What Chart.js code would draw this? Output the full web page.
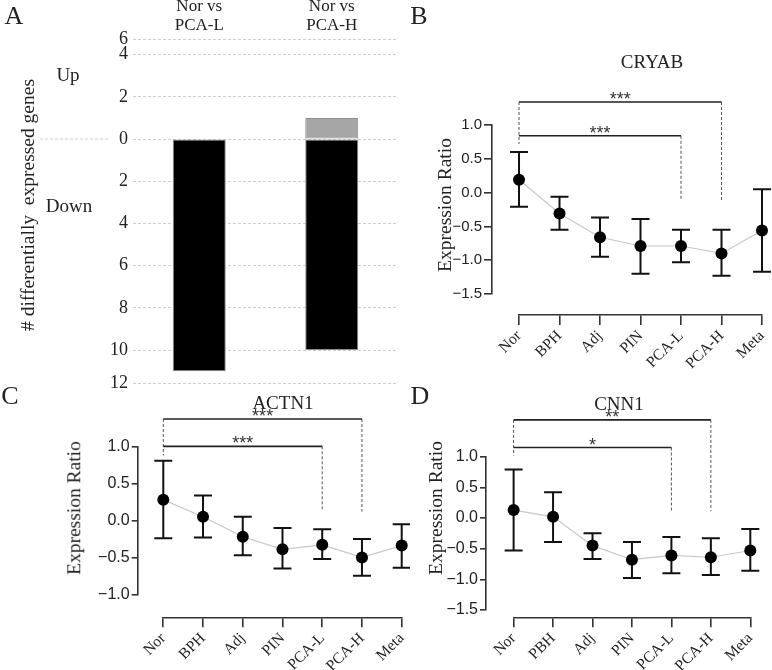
<!DOCTYPE html>
<html>
<head>
<meta charset="utf-8">
<script src="https://cdn.jsdelivr.net/npm/chart.js@4.4.1/dist/chart.umd.min.js"></script>
<style>
  body { margin: 0; background: #fff; }
  #wrap { position: relative; width: 772px; height: 670px; overflow: hidden;
          font-family: 'Liberation Serif', 'Times New Roman', serif; color: #222; }
  canvas { position: absolute; }
  .lbl { position: absolute; transform: translate(-50%, -50%); white-space: nowrap; line-height: 1; }
  .rot { transform: translate(-50%, -50%) rotate(-90deg); }
</style>
</head>
<body>
<div id="wrap">
  <canvas id="chartA" width="400" height="400" style="left:0;top:0"></canvas>
  <canvas id="chartB" width="372" height="380" style="left:400px;top:0"></canvas>
  <canvas id="chartC" width="410" height="290" style="left:0;top:380px"></canvas>
  <canvas id="chartD" width="386" height="290" style="left:386px;top:380px"></canvas>

  <div class="lbl" style="left:14px;top:16px;font-size:26px">A</div>
  <div class="lbl" style="left:419px;top:16px;font-size:26px">B</div>
  <div class="lbl" style="left:10px;top:396px;font-size:26px">C</div>
  <div class="lbl" style="left:420px;top:396px;font-size:26px">D</div>

  <div class="lbl" style="left:68px;top:74px;font-size:19px">Up</div>
  <div class="lbl" style="left:69px;top:205px;font-size:19px">Down</div>
  <div class="lbl rot" style="left:28px;top:205px;font-size:19.5px"># differentially&nbsp; expressed genes</div>

  <div class="lbl" style="left:652px;top:61px;font-size:19px">CRYAB</div>
  <div class="lbl" style="left:283px;top:402px;font-size:19px">ACTN1</div>
  <div class="lbl" style="left:619px;top:403px;font-size:19px">CNN1</div>

  <div class="lbl rot" style="left:445px;top:205px;font-size:19.5px">Expression Ratio</div>
  <div class="lbl rot" style="left:74px;top:508px;font-size:19.5px">Expression Ratio</div>
  <div class="lbl rot" style="left:436px;top:508px;font-size:19.5px">Expression Ratio</div>
</div>

<script>
// panel A: number of differentially expressed genes
const comparisons = [['Nor vs', 'PCA-L'], ['Nor vs', 'PCA-H']];
const upGenes = [0, 1];
const downGenes = [-11, -10];
// the printed axis is uneven at both ends, so tick values follow the picture
const countTicks = [-11.56, -10, -8, -6, -4, -2, 0, 2, 4, 4.74];
const countTickLabels = ['12', '10', '8', '6', '4', '2', '0', '2', '4', '6'];

// panels B-D: expression ratio per stage
const stages = ['Nor', 'BPH', 'Adj', 'PIN', 'PCA-L', 'PCA-H', 'Meta'];
const stagesCnn1 = ['Nor', 'PBH', 'Adj', 'PIN', 'PCA-L', 'PCA-H', 'Meta'];

const cryabMean = [0.19, -0.31, -0.66, -0.79, -0.79, -0.90, -0.56];
const cryabHigh = [0.60, -0.06, -0.37, -0.39, -0.55, -0.55, 0.05];
const cryabLow = [-0.21, -0.55, -0.95, -1.20, -1.03, -1.23, -1.17];

const actn1Mean = [0.28, 0.05, -0.22, -0.39, -0.33, -0.50, -0.34];
const actn1High = [0.81, 0.34, 0.05, -0.10, -0.12, -0.25, -0.05];
const actn1Low = [-0.24, -0.23, -0.47, -0.65, -0.52, -0.75, -0.64];

const cnn1Mean = [0.13, 0.02, -0.45, -0.68, -0.61, -0.64, -0.53];
const cnn1High = [0.79, 0.42, -0.25, -0.39, -0.31, -0.33, -0.18];
const cnn1Low = [-0.53, -0.39, -0.67, -0.98, -0.90, -0.93, -0.86];

// significance brackets (Nor vs PCA-L, Nor vs PCA-H)
const cryabSig = [
  { from: 0, to: 4, level: 0.84, drop: -0.11, stars: '***' },
  { from: 0, to: 5, level: 1.34, drop: -0.11, stars: '***' },
];
const actn1Sig = [
  { from: 0, to: 4, level: 1.005, drop: 0.14, stars: '***' },
  { from: 0, to: 5, level: 1.375, drop: 0.12, stars: '***' },
];
const cnn1Sig = [
  { from: 0, to: 4, level: 1.15, drop: 0.12, stars: '*' },
  { from: 0, to: 5, level: 1.60, drop: 0.11, stars: '**' },
];
const sigNorDrop = { cryab: 0.72, actn1: 0.88, cnn1: 1.02 };

const SERIF = 'Liberation Serif';
const SANS = 'Liberation Sans';

function panelMarks(low, high, sig, norDrop, gap) {
  return {
    id: 'panelMarks',
    // Prism style: the stage axis hangs below the plot and starts at the first stage
    afterLayout(chart) {
      const x = chart.scales.x;
      x.left = x.getPixelForValue(0);
      x.top = chart.chartArea.bottom + gap;
    },
    beforeDatasetsDraw(chart) {
      const { ctx, scales: { x, y } } = chart;
      ctx.save();
      ctx.strokeStyle = '#111';
      ctx.lineWidth = 2;
      ctx.beginPath();
      high.forEach((hi, i) => {
        const px = x.getPixelForValue(i);
        const top = y.getPixelForValue(hi);
        const bot = y.getPixelForValue(low[i]);
        ctx.moveTo(px, top); ctx.lineTo(px, bot);
        ctx.moveTo(px - 9, top); ctx.lineTo(px + 9, top);
        ctx.moveTo(px - 9, bot); ctx.lineTo(px + 9, bot);
      });
      ctx.stroke();
      ctx.restore();
    },
    afterDatasetsDraw(chart) {
      const { ctx, scales: { x, y } } = chart;
      const highest = Math.max(...sig.map((s) => s.level));
      const x0 = x.getPixelForValue(0);
      ctx.save();
      ctx.strokeStyle = '#555';
      ctx.lineWidth = 1;
      ctx.setLineDash([3, 2]);
      ctx.beginPath();
      ctx.moveTo(x0, y.getPixelForValue(highest));
      ctx.lineTo(x0, y.getPixelForValue(norDrop));
      sig.forEach((s) => {
        const px = x.getPixelForValue(s.to);
        ctx.moveTo(px, y.getPixelForValue(s.level));
        ctx.lineTo(px, y.getPixelForValue(s.drop));
      });
      ctx.stroke();
      ctx.setLineDash([]);
      ctx.strokeStyle = '#222';
      ctx.lineWidth = 1.6;
      ctx.beginPath();
      sig.forEach((s) => {
        const py = y.getPixelForValue(s.level);
        ctx.moveTo(x.getPixelForValue(s.from), py);
        ctx.lineTo(x.getPixelForValue(s.to), py);
      });
      ctx.stroke();
      ctx.fillStyle = '#333';
      ctx.font = `18px "${SANS}"`;
      ctx.textAlign = 'center';
      ctx.textBaseline = 'alphabetic';
      sig.forEach((s) => {
        const cx = (x.getPixelForValue(s.from) + x.getPixelForValue(s.to)) / 2;
        ctx.fillText(s.stars, cx, y.getPixelForValue(s.level) + 3);
      });
      ctx.restore();
    },
  };
}

const zeroLine = {
  id: 'zeroLine',
  afterDatasetsDraw(chart) {
    const { ctx, chartArea, scales: { y } } = chart;
    const py = y.getPixelForValue(0);
    ctx.save();
    ctx.strokeStyle = '#cfcfcf';
    ctx.lineWidth = 1;
    ctx.setLineDash([3, 2]);
    ctx.beginPath();
    ctx.moveTo(chartArea.left - 93, py);
    ctx.lineTo(chartArea.left - 23, py);
    ctx.stroke();
    ctx.restore();
  },
};

new Chart(document.getElementById('chartA').getContext('2d'), {
  type: 'bar',
  data: {
    labels: comparisons,
    datasets: [
      { data: upGenes, backgroundColor: '#a6a6a6', borderColor: '#8c8c8c', borderWidth: (c) => (c.raw ? 1 : 0) },
      { data: downGenes, backgroundColor: '#000', borderColor: '#8c8c8c', borderWidth: 1 },
    ],
  },
  options: {
    responsive: false,
    animation: false,
    layout: { padding: { top: 0, right: 2, bottom: 17, left: 0 } },
    plugins: { legend: { display: false }, tooltip: { enabled: false } },
    datasets: { bar: { categoryPercentage: 1, barPercentage: 0.4, borderSkipped: false } },
    scales: {
      x: {
        position: 'top',
        stacked: true,
        afterFit: (s) => { s.height = 39; },
        grid: { display: false, drawTicks: false },
        border: { display: false },
        ticks: { padding: 4, color: '#222', font: { family: SERIF, size: 17, lineHeight: 1.1 } },
      },
      y: {
        stacked: true,
        min: countTicks[0],
        max: countTicks[countTicks.length - 1],
        afterBuildTicks: (s) => { s.ticks = countTicks.map((v) => ({ value: v })); },
        afterFit: (s) => { s.width = 133; },
        grid: { color: '#cfcfcf', lineWidth: 1, drawTicks: false },
        border: { display: false, dash: [3, 2] },
        ticks: {
          padding: 5,
          color: '#222',
          font: { family: SERIF, size: 18 },
          callback: (v, i) => countTickLabels[i],
        },
      },
    },
  },
  plugins: [zeroLine],
});

function expressionPanel(id, labels, mean, low, high, sig, norDrop, box) {
  const ctx = document.getElementById(id).getContext('2d');
  return new Chart(ctx, {
    type: 'line',
    data: {
      datasets: [{
        data: mean.map((v, i) => ({ x: i, y: v })),
        borderColor: '#c8c8c8',
        borderWidth: 1.2,
        pointRadius: 6,
        pointBorderWidth: 0,
        pointBackgroundColor: '#000',
        clip: false,
      }],
    },
    options: {
      responsive: false,
      animation: false,
      layout: { padding: { top: box.top, right: box.right, bottom: 0, left: 0 } },
      plugins: { legend: { display: false }, tooltip: { enabled: false } },
      scales: {
        x: {
          type: 'linear',
          bounds: 'data',
          min: box.xMin,
          max: labels.length - 1,
          afterBuildTicks: (s) => { s.ticks = labels.map((_, i) => ({ value: i })); },
          afterFit: (s) => {
            s.height = box.xHeight;
            s.paddingLeft = 0;
            s.paddingRight = 0;
          },
          grid: { drawOnChartArea: false, drawTicks: true, tickLength: 10, color: '#333', lineWidth: 1.6 },
          border: { display: true, color: '#333', width: 1.6 },
          ticks: {
            autoSkip: false,
            minRotation: 45,
            maxRotation: 45,
            padding: 2,
            color: '#222',
            font: { family: SERIF, size: 15.5 },
            callback: (v) => labels[v],
          },
        },
        y: {
          min: box.yMin,
          max: 1,
          afterFit: (s) => { s.width = box.yWidth; },
          grid: { drawOnChartArea: false, tickLength: box.tick, color: '#333', lineWidth: 1.6 },
          border: { color: '#333', width: 1.6 },
          ticks: {
            stepSize: 0.5,
            padding: 2,
            color: '#222',
            font: { family: SANS, size: box.tickSize },
            callback: (v) => v.toFixed(1).replace('-', '\u2212'),
          },
        },
      },
    },
    plugins: [panelMarks(low, high, sig, norDrop, box.gap)],
  });
}

expressionPanel('chartB', stages, cryabMean, cryabLow, cryabHigh, cryabSig, sigNorDrop.cryab,
  { top: 125, right: 10, yWidth: 92, xHeight: 86, xMin: -0.667, gap: 21, yMin: -1.5, tick: 8, tickSize: 15 });
expressionPanel('chartC', stages, actn1Mean, actn1Low, actn1High, actn1Sig, sigNorDrop.actn1,
  { top: 66.7, right: 8.3, yWidth: 137.7, xHeight: 75.7, xMin: -0.644, gap: 23, yMin: -1, tick: 6, tickSize: 16 });
expressionPanel('chartD', stagesCnn1, cnn1Mean, cnn1Low, cnn1High, cnn1Sig, sigNorDrop.cnn1,
  { top: 76.7, right: 21.7, yWidth: 100, xHeight: 60, xMin: -0.70, gap: 7.3, yMin: -1.5, tick: 6, tickSize: 16 });
</script>
</body>
</html>
